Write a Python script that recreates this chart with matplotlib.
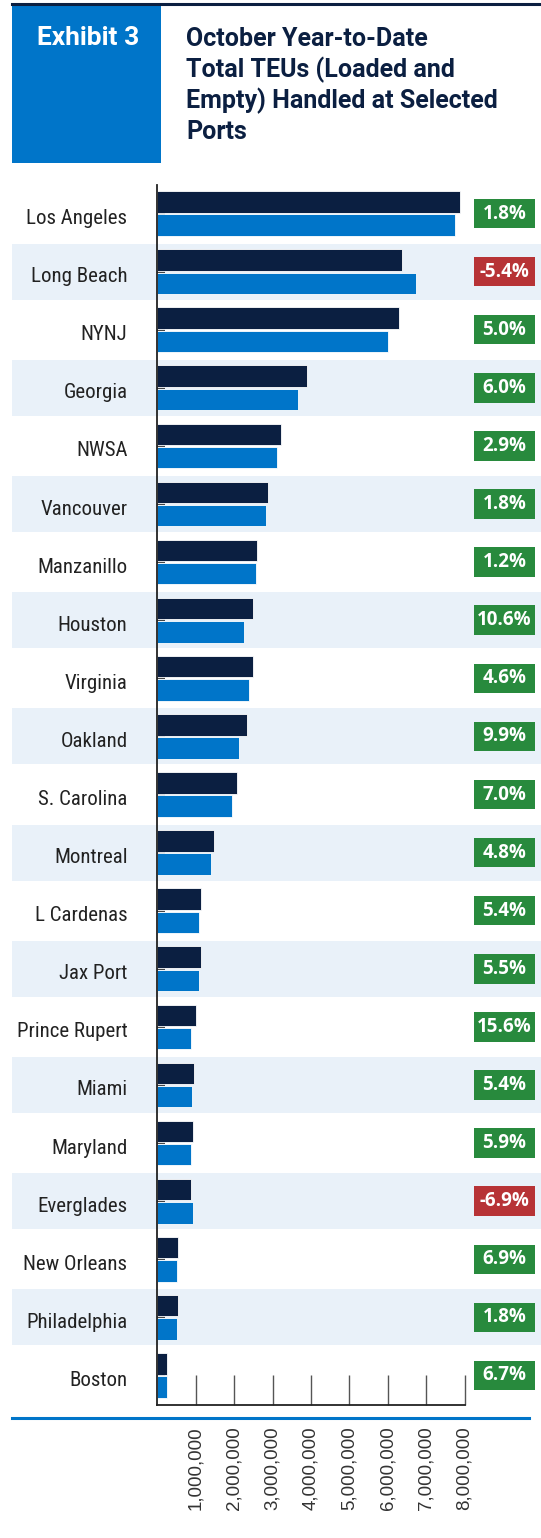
import numpy as np
import matplotlib
matplotlib.use('Agg')
import matplotlib.pyplot as plt
from matplotlib import font_manager
from matplotlib.patches import Rectangle
from matplotlib.lines import Line2D
from matplotlib.transforms import blended_transform_factory, ScaledTranslation

ports = ['Los Angeles', 'Long Beach', 'NYNJ', 'Georgia', 'NWSA', 'Vancouver',
         'Manzanillo', 'Houston', 'Virginia', 'Oakland', 'S. Carolina', 'Montreal',
         'L Cardenas', 'Jax Port', 'Prince Rupert', 'Miami', 'Maryland',
         'Everglades', 'New Orleans', 'Philadelphia', 'Boston']
teu_current = [7875000, 6370000, 6290000, 3890000, 3230000, 2880000,
               2600000, 2500000, 2500000, 2336000, 2080000, 1477000,
               1146000, 1138000, 1016000, 964000, 920000,
               869000, 547000, 530000, 260000]
teu_prior = [7740000, 6740000, 6000000, 3670000, 3130000, 2840000,
             2570000, 2266000, 2390000, 2128000, 1945000, 1406000,
             1086000, 1086000, 878000, 911000, 878000,
             938000, 505000, 520000, 245000]
pct_change = [1.8, -5.4, 5.0, 6.0, 2.9, 1.8, 1.2, 10.6, 4.6, 9.9, 7.0, 4.8,
              5.4, 5.5, 15.6, 5.4, 5.9, -6.9, 6.9, 1.8, 6.7]
x_ticks = [1000000, 2000000, 3000000, 4000000, 5000000, 6000000, 7000000, 8000000]

exhibit_label = 'Exhibit 3'
title_lines = ['October Year-to-Date', 'Total TEUs (Loaded and',
               'Empty) Handled at Selected', 'Ports']

# colours
navy = '#0B1F41'
blue = '#0075C9'
band = '#E9F1F9'
green = '#288A3D'
red = '#B73336'

names = {f.name for f in font_manager.fontManager.ttflist}
label_font = next((n for n in ['Roboto Condensed', 'Liberation Sans Narrow', 'Roboto']
                   if n in names), 'DejaVu Sans')
bold_font = 'Roboto' if 'Roboto' in names else 'DejaVu Sans'
badge_font = 'Open Sans' if 'Open Sans' in names else 'DejaVu Sans'

W, H = 541, 1538
fig = plt.figure(figsize=(W / 100, H / 100), dpi=100)

def fx(px):
    return px / W

def fy(py):
    return 1 - py / H

# header
fig.add_artist(Line2D([fx(12), fx(541)], [fy(3.5), fy(3.5)], color=navy, lw=2.2))
fig.add_artist(Rectangle((fx(12), fy(163)), fx(149), 158 / H, color=blue, lw=0))
fig.text(fx(37), fy(44.8), exhibit_label, color='white', fontsize=19,
         fontweight='bold', family=bold_font, va='baseline')
for i, line in enumerate(title_lines):
    fig.text(fx(186), fy(45.9 + 31 * i), line, color=navy, fontsize=18,
             fontweight='bold', family=bold_font, va='baseline')

# chart
ax = fig.add_axes([fx(157.3), (H - 1404.5) / H, 307.2 / W, 1220 / H])
ax.patch.set_visible(False)
y = np.arange(len(ports))
bar_h = 0.37
ax.barh(y - 0.2, teu_current, height=bar_h, color=navy, edgecolor='white',
        linewidth=0.6, zorder=2)
ax.barh(y + 0.2, teu_prior, height=bar_h, color=blue, edgecolor='white',
        linewidth=0.6, zorder=2)
ax.set_xlim(0, 8000000)
ax.set_ylim(len(ports) - 0.5, -0.5)

# alternating row bands spanning the figure width
trans = blended_transform_factory(fig.transFigure, ax.transData)
for i in y:
    if i % 2 == 1:
        ax.add_patch(Rectangle((fx(12), i - 0.482), 1 - fx(12), 0.964,
                               transform=trans, color=band, lw=0,
                               zorder=0, clip_on=False))

# change badges
for i, v in enumerate(pct_change):
    c = green if v >= 0 else red
    ax.add_patch(Rectangle((fx(474), i - 0.254), fx(61), 0.508,
                           transform=trans, color=c, lw=0, zorder=3,
                           clip_on=False))
    ax.text(fx(504.5), i, f'{v:.1f}%', transform=trans, ha='center',
            va='center', color='white', fontsize=13.5, fontweight='bold',
            family=badge_font, zorder=4, clip_on=False)

ax.set_yticks(y)
ax.set_yticklabels(ports, family=label_font, fontsize=15, color='#222222')
ax.tick_params(axis='y', direction='in', length=5.5, width=1.2,
               color='#222222', pad=21.5)
ax.set_xticks(x_ticks)
ax.set_xticklabels([f'{t:,}' for t in x_ticks], rotation=90,
                   family='Liberation Sans', fontsize=13.5, color='#333333')
ax.tick_params(axis='x', direction='in', length=21.6, width=1.0,
               color='#555555', pad=16)
for s in ['top', 'right']:
    ax.spines[s].set_visible(False)
for s in ['left', 'bottom']:
    ax.spines[s].set_color('#222222')
    ax.spines[s].set_linewidth(1.3)

# labels sit a little below the bar centres in the original
shift = ScaledTranslation(0, -0.03, fig.dpi_scale_trans)
for lbl in ax.get_yticklabels():
    lbl.set_transform(lbl.get_transform() + shift)

# blue rule under the axis
fig.add_artist(Line2D([fx(12), fx(529)], [fy(1417.5), fy(1417.5)], color=blue, lw=2.2))

fig.savefig('out.png', dpi=100)
